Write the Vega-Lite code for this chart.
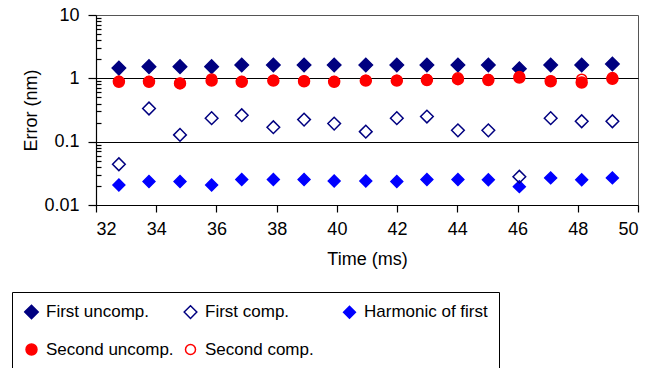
{
  "$schema": "https://vega.github.io/schema/vega-lite/v6.json",
  "width": 542,
  "height": 190,
  "autosize": {"type": "none"},
  "padding": {"left": 96, "top": 15, "right": 24, "bottom": 163},
  "background": "white",
  "config": {
    "font": "Liberation Sans",
    "view": {"stroke": "#555555", "strokeWidth": 1},
    "axis": {"labelFont": "Liberation Sans", "titleFont": "Liberation Sans", "labelFontSize": 18, "titleFontSize": 18, "titleFontWeight": "normal", "labelColor": "black", "titleColor": "black", "domainColor": "black", "tickColor": "black", "domainWidth": 1.2, "tickWidth": 1.2},
    "legend": {"title": null, "orient": "none", "legendX": -84, "legendY": 277, "columns": 3, "direction": "horizontal", "gridAlign": "all", "columnPadding": 7, "rowPadding": 18, "labelFontSize": 17, "labelFont": "Liberation Sans", "labelColor": "black", "labelOffset": 6, "strokeColor": "black", "fillColor": "white", "padding": 11, "symbolStrokeWidth": 1.5, "symbolOpacity": 1}
  },
  "data": {"values": [
    {"t": 32.76, "err": 1.45, "series": "First uncomp."},
    {"t": 33.76, "err": 1.53, "series": "First uncomp."},
    {"t": 34.79, "err": 1.53, "series": "First uncomp."},
    {"t": 35.84, "err": 1.53, "series": "First uncomp."},
    {"t": 36.84, "err": 1.62, "series": "First uncomp."},
    {"t": 37.89, "err": 1.62, "series": "First uncomp."},
    {"t": 38.91, "err": 1.62, "series": "First uncomp."},
    {"t": 39.91, "err": 1.62, "series": "First uncomp."},
    {"t": 40.96, "err": 1.62, "series": "First uncomp."},
    {"t": 41.99, "err": 1.62, "series": "First uncomp."},
    {"t": 42.99, "err": 1.62, "series": "First uncomp."},
    {"t": 44.02, "err": 1.62, "series": "First uncomp."},
    {"t": 45.03, "err": 1.62, "series": "First uncomp."},
    {"t": 46.06, "err": 1.42, "series": "First uncomp."},
    {"t": 47.1, "err": 1.62, "series": "First uncomp."},
    {"t": 48.13, "err": 1.62, "series": "First uncomp."},
    {"t": 49.15, "err": 1.68, "series": "First uncomp."},
    {"t": 32.76, "err": 0.88, "series": "Second uncomp."},
    {"t": 33.76, "err": 0.88, "series": "Second uncomp."},
    {"t": 34.79, "err": 0.83, "series": "Second uncomp."},
    {"t": 35.84, "err": 0.92, "series": "Second uncomp."},
    {"t": 36.84, "err": 0.88, "series": "Second uncomp."},
    {"t": 37.89, "err": 0.92, "series": "Second uncomp."},
    {"t": 38.91, "err": 0.9, "series": "Second uncomp."},
    {"t": 39.91, "err": 0.88, "series": "Second uncomp."},
    {"t": 40.96, "err": 0.92, "series": "Second uncomp."},
    {"t": 41.99, "err": 0.92, "series": "Second uncomp."},
    {"t": 42.99, "err": 0.94, "series": "Second uncomp."},
    {"t": 44.02, "err": 0.97, "series": "Second uncomp."},
    {"t": 45.03, "err": 0.94, "series": "Second uncomp."},
    {"t": 46.06, "err": 1.03, "series": "Second uncomp."},
    {"t": 47.1, "err": 0.9, "series": "Second uncomp."},
    {"t": 48.13, "err": 0.86, "series": "Second uncomp."},
    {"t": 49.15, "err": 0.98, "series": "Second uncomp."},
    {"t": 32.76, "err": 0.9, "series": "Second comp."},
    {"t": 33.76, "err": 0.89, "series": "Second comp."},
    {"t": 34.79, "err": 0.84, "series": "Second comp."},
    {"t": 35.84, "err": 0.98, "series": "Second comp."},
    {"t": 36.84, "err": 0.89, "series": "Second comp."},
    {"t": 37.89, "err": 0.93, "series": "Second comp."},
    {"t": 38.91, "err": 0.91, "series": "Second comp."},
    {"t": 39.91, "err": 0.89, "series": "Second comp."},
    {"t": 40.96, "err": 0.93, "series": "Second comp."},
    {"t": 41.99, "err": 0.93, "series": "Second comp."},
    {"t": 42.99, "err": 0.96, "series": "Second comp."},
    {"t": 44.02, "err": 1.02, "series": "Second comp."},
    {"t": 45.03, "err": 0.96, "series": "Second comp."},
    {"t": 46.06, "err": 1.07, "series": "Second comp."},
    {"t": 47.1, "err": 0.91, "series": "Second comp."},
    {"t": 48.13, "err": 0.97, "series": "Second comp."},
    {"t": 49.15, "err": 1.03, "series": "Second comp."},
    {"t": 32.76, "err": 0.0207, "series": "Harmonic of first"},
    {"t": 33.76, "err": 0.0235, "series": "Harmonic of first"},
    {"t": 34.79, "err": 0.0235, "series": "Harmonic of first"},
    {"t": 35.84, "err": 0.0207, "series": "Harmonic of first"},
    {"t": 36.84, "err": 0.0252, "series": "Harmonic of first"},
    {"t": 37.89, "err": 0.0252, "series": "Harmonic of first"},
    {"t": 38.91, "err": 0.0253, "series": "Harmonic of first"},
    {"t": 39.91, "err": 0.024, "series": "Harmonic of first"},
    {"t": 40.96, "err": 0.024, "series": "Harmonic of first"},
    {"t": 41.99, "err": 0.0235, "series": "Harmonic of first"},
    {"t": 42.99, "err": 0.0252, "series": "Harmonic of first"},
    {"t": 44.02, "err": 0.0252, "series": "Harmonic of first"},
    {"t": 45.03, "err": 0.025, "series": "Harmonic of first"},
    {"t": 46.06, "err": 0.0195, "series": "Harmonic of first"},
    {"t": 47.1, "err": 0.0268, "series": "Harmonic of first"},
    {"t": 48.13, "err": 0.025, "series": "Harmonic of first"},
    {"t": 49.15, "err": 0.0268, "series": "Harmonic of first"},
    {"t": 32.76, "err": 0.044, "series": "First comp."},
    {"t": 33.76, "err": 0.334, "series": "First comp."},
    {"t": 34.79, "err": 0.128, "series": "First comp."},
    {"t": 35.84, "err": 0.235, "series": "First comp."},
    {"t": 36.84, "err": 0.262, "series": "First comp."},
    {"t": 37.89, "err": 0.169, "series": "First comp."},
    {"t": 38.91, "err": 0.223, "series": "First comp."},
    {"t": 39.91, "err": 0.193, "series": "First comp."},
    {"t": 40.96, "err": 0.144, "series": "First comp."},
    {"t": 41.99, "err": 0.235, "series": "First comp."},
    {"t": 42.99, "err": 0.249, "series": "First comp."},
    {"t": 44.02, "err": 0.151, "series": "First comp."},
    {"t": 45.03, "err": 0.151, "series": "First comp."},
    {"t": 46.06, "err": 0.028, "series": "First comp."},
    {"t": 47.1, "err": 0.235, "series": "First comp."},
    {"t": 48.13, "err": 0.21, "series": "First comp."},
    {"t": 49.15, "err": 0.21, "series": "First comp."}
  ]},
  "mark": {"type": "point", "strokeWidth": 1.5, "opacity": 1},
  "encoding": {
    "x": {
      "field": "t", "type": "quantitative",
      "scale": {"domain": [32, 50], "nice": false, "zero": false},
      "axis": {"values": [32, 34, 36, 38, 40, 42, 44, 46, 48, 50], "title": "Time (ms)", "grid": false, "tickSize": 7, "labelPadding": 8, "titlePadding": 12}
    },
    "y": {
      "field": "err", "type": "quantitative",
      "scale": {"type": "log", "domain": [0.01, 10], "nice": false},
      "axis": {
        "values": [0.01, 0.02, 0.03, 0.04, 0.05, 0.06, 0.07, 0.08, 0.09, 0.1, 0.2, 0.3, 0.4, 0.5, 0.6, 0.7, 0.8, 0.9, 1, 2, 3, 4, 5, 6, 7, 8, 9, 10],
        "format": "~g",
        "labelExpr": "(datum.value == 0.01 || datum.value == 0.1 || datum.value == 1 || datum.value == 10) ? datum.label : ''",
        "title": "Error (nm)",
        "grid": true,
        "gridColor": "black",
        "gridWidth": 1.2,
        "gridOpacity": {"condition": {"test": "datum.value == 0.1 || datum.value == 1", "value": 1}, "value": 0},
        "tickSize": {"condition": {"test": "datum.value == 0.01 || datum.value == 0.1 || datum.value == 1 || datum.value == 10", "value": 8}, "value": -5},
        "labelPadding": 9,
        "titlePadding": 3
      }
    },
    "shape": {
      "field": "series", "type": "nominal",
      "scale": {"domain": ["First uncomp.", "First comp.", "Harmonic of first", "Second uncomp.", "Second comp."], "range": ["diamond", "diamond", "diamond", "circle", "circle"]}
    },
    "fill": {
      "field": "series", "type": "nominal",
      "scale": {"domain": ["First uncomp.", "First comp.", "Harmonic of first", "Second uncomp.", "Second comp."], "range": ["#000080", "transparent", "#0000ff", "#ff0000", "transparent"]}
    },
    "stroke": {
      "field": "series", "type": "nominal",
      "scale": {"domain": ["First uncomp.", "First comp.", "Harmonic of first", "Second uncomp.", "Second comp."], "range": ["#000080", "#000080", "#0000ff", "#ff0000", "#ff0000"]}
    },
    "size": {
      "field": "series", "type": "nominal",
      "scale": {"domain": ["First uncomp.", "First comp.", "Harmonic of first", "Second uncomp.", "Second comp."], "range": [180, 100, 55, 105, 105]}
    }
  }
}
